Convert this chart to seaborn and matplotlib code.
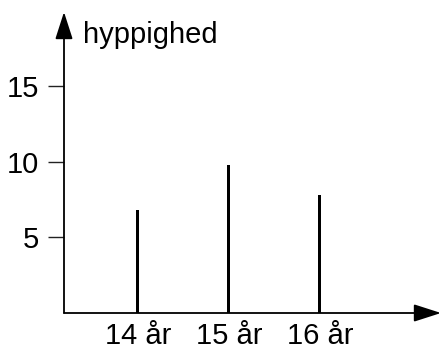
import matplotlib
matplotlib.use("Agg")
import matplotlib.pyplot as plt
import seaborn as sns
import pandas as pd

# Frequency of each age group
ages = ["14 år", "15 år", "16 år"]
counts = [6.8, 9.8, 7.8]
yticks = [5, 10, 15]

sns.set_theme(style="white")
plt.rcParams["font.family"] = ["Liberation Sans", "DejaVu Sans"]

fig = plt.figure(figsize=(4.41, 3.49), dpi=100)
ax = fig.add_axes([64 / 441, 36 / 349, 377 / 441, 301 / 349])

df = pd.DataFrame({"alder": ages, "hyppighed": counts})
sns.barplot(data=df, x="alder", y="hyppighed", color="black",
            width=0.033, saturation=1, ax=ax, edgecolor="none")

ax.set_xlim(-0.813, 3.33)
ax.set_ylim(0, 19.93)
ax.set_yticks(yticks)
ax.set_yticklabels([str(t) for t in yticks])
ax.set_xlabel("")
ax.set_ylabel("")

for s in ax.spines.values():
    s.set_visible(False)

ax.tick_params(axis="y", which="both", left=True, length=11.5, width=1.0,
               color="#222222", pad=6.5, labelsize=21, labelcolor="black")
ax.tick_params(axis="x", which="both", bottom=False, length=0, pad=6.5,
               labelsize=21, labelcolor="black")

# Axis lines with arrowheads
arrow = dict(arrowstyle="-|>,head_length=1.4,head_width=0.45",
             color="black", lw=1.3, shrinkA=0, shrinkB=0)
ax.annotate("", xy=(0, 1), xytext=(0, 0), xycoords="axes fraction",
            textcoords="axes fraction", arrowprops=arrow, annotation_clip=False)
ax.annotate("", xy=(1, 0), xytext=(0, 0), xycoords="axes fraction",
            textcoords="axes fraction", arrowprops=arrow, annotation_clip=False)

fig.text(83 / 441, 306 / 349, "hyppighed", fontsize=21, color="black",
         ha="left", va="baseline")

fig.savefig("out.png", dpi=100, facecolor="white")
